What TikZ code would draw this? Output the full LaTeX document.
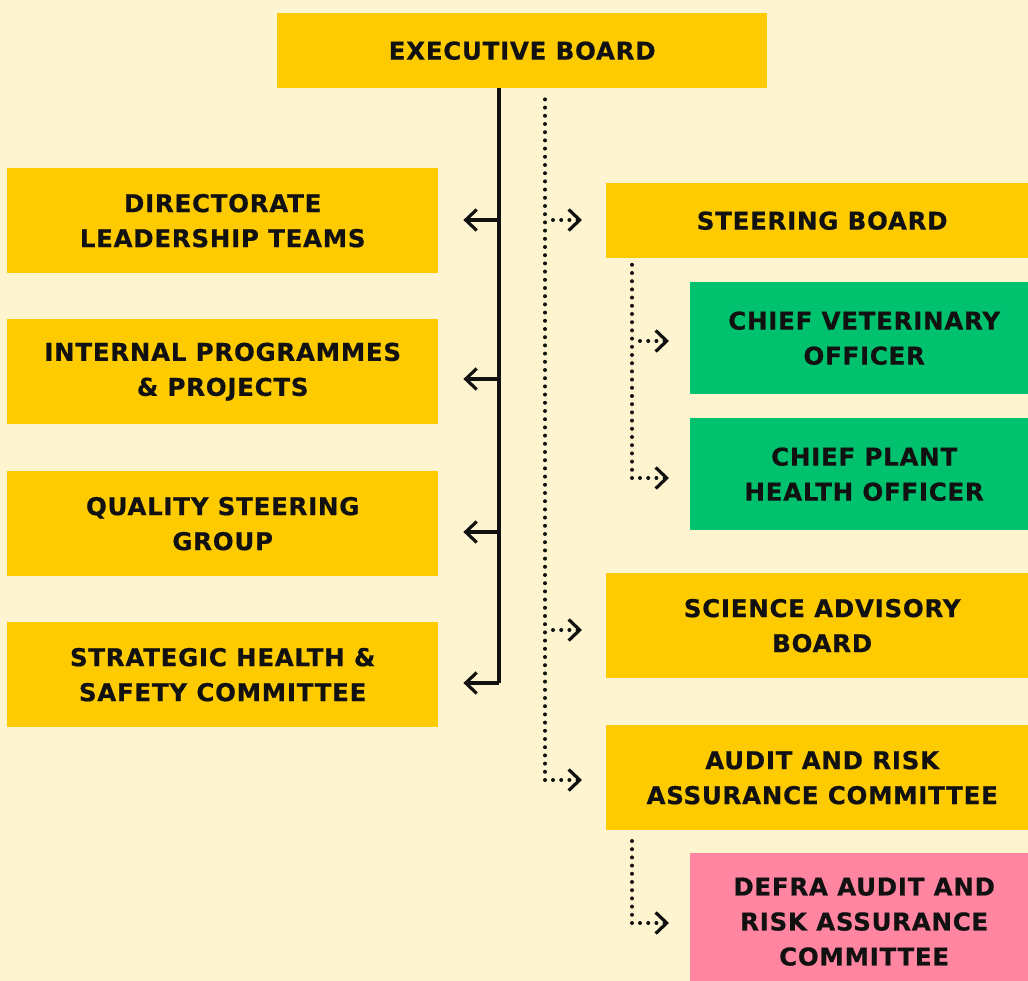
\documentclass[tikz,border=0pt]{standalone}
\usepackage{fontspec}
\setmainfont{DejaVu Sans}[LetterSpace=3,FakeBold=0.6]
\usetikzlibrary{arrows.meta,calc}
\definecolor{bg}{HTML}{FEF4D0}
\definecolor{ylw}{HTML}{FECB00}
\definecolor{grn}{HTML}{00C16E}
\definecolor{pnk}{HTML}{FF85A1}
\definecolor{ink}{HTML}{111111}
\tikzset{
  box/.style={anchor=north west, inner sep=0pt, align=center, text=ink,
    font=\fontsize{24.5}{35}\selectfont\bfseries},
  yb/.style={box, fill=ylw},
  gb/.style={box, fill=grn},
  pb/.style={box, fill=pnk},
  tip/.style={-{Straight Barb[length=11pt,width=21pt,line width=3.2pt]}},
  solidline/.style={draw=ink, line width=3.2pt},
  dotline/.style={draw=ink, line width=4pt, line cap=round, dash pattern=on 0pt off 8.2pt},
}
\begin{document}
\begin{tikzpicture}[x=1pt,y=-1pt]
\useasboundingbox (0,0) rectangle (1028,981);
\fill[bg] (0,0) rectangle (1028,981);
% boxes
\node[yb, minimum width=490pt, minimum height=75pt] (eb) at (277,13) {EXECUTIVE BOARD};
\node[yb, minimum width=431pt, minimum height=105pt] (dlt) at (7,168) {DIRECTORATE\\LEADERSHIP TEAMS};
\node[yb, minimum width=431pt, minimum height=105pt] (ipp) at (7,319) {INTERNAL PROGRAMMES\\\& PROJECTS};
\node[yb, minimum width=431pt, minimum height=105pt] (qsg) at (7,471) {QUALITY STEERING\\GROUP};
\node[yb, minimum width=431pt, minimum height=105pt] (shs) at (7,622) {STRATEGIC HEALTH \&\\SAFETY COMMITTEE};
\node[yb, minimum width=432pt, minimum height=75pt] (sb) at (606,183) {STEERING BOARD};
\node[gb, minimum width=348pt, minimum height=112pt] (cvo) at (690,282) {CHIEF VETERINARY\\OFFICER};
\node[gb, minimum width=348pt, minimum height=112pt] (cpho) at (690,418) {CHIEF PLANT\\HEALTH OFFICER};
\node[yb, minimum width=432pt, minimum height=105pt] (sab) at (606,573) {SCIENCE ADVISORY\\BOARD};
\node[yb, minimum width=432pt, minimum height=105pt] (arac) at (606,725) {AUDIT AND RISK\\ASSURANCE COMMITTEE};
\node[pb, minimum width=348pt, minimum height=137pt] (defra) at (690,853) {DEFRA AUDIT AND\\RISK ASSURANCE\\COMMITTEE};
% junction coordinates
\coordinate (t0) at (499,88);
\coordinate (a1) at (499,220);
\coordinate (a2) at (499,379);
\coordinate (a3) at (499,532);
\coordinate (a4) at (499,683);
\coordinate (d0) at (545,88);
\coordinate (b1) at (545,220);
\coordinate (b2) at (545,630);
\coordinate (b3) at (545,780);
\coordinate (c0) at (632,258);
\coordinate (c1) at (632,341);
\coordinate (c2) at (632,478);
\coordinate (e0) at (632,830);
\coordinate (e1) at (632,923);
% solid connectors
\draw[solidline] (eb.south -| t0) -- (a4);
\draw[solidline, tip, shorten >=25pt] (a1) -- (a1 -| dlt.east);
\draw[solidline, tip, shorten >=25pt] (a2) -- (a2 -| ipp.east);
\draw[solidline, tip, shorten >=25pt] (a3) -- (a3 -| qsg.east);
\draw[solidline, tip, shorten >=25pt] (a4) -- (a4 -| shs.east);
% dotted connectors
\draw[dotline] (b3) -- ($(eb.south -| d0)+(0,3)$);
\draw[dotline, tip, shorten >=24pt] (b1) ++(8,0) -- (b1 -| sb.west);
\draw[dotline, tip, shorten >=24pt] (b2) ++(8,0) -- (b2 -| sab.west);
\draw[dotline, tip, shorten >=24pt] (b3) ++(8,0) -- (b3 -| arac.west);
\draw[dotline] (c2) -- ($(sb.south -| c0)+(0,3)$);
\draw[dotline, tip, shorten >=21pt] (c1) ++(8,0) -- (c1 -| cvo.west);
\draw[dotline, tip, shorten >=21pt] (c2) ++(8,0) -- (c2 -| cpho.west);
\draw[dotline] (e1) -- ($(arac.south -| e0)+(0,3)$);
\draw[dotline, tip, shorten >=21pt] (e1) ++(8,0) -- (e1 -| defra.west);
\end{tikzpicture}
\end{document}
